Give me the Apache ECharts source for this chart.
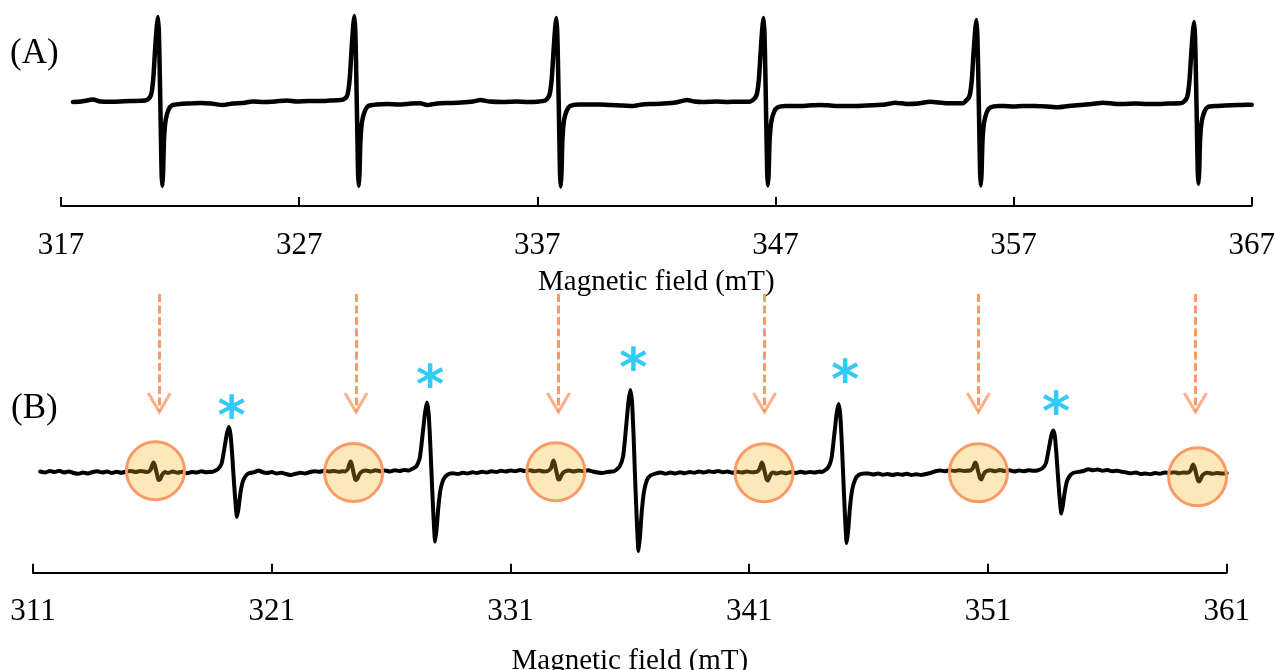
<!DOCTYPE html>
<html>
<head>
<meta charset="utf-8">
<script src="https://cdn.jsdelivr.net/npm/echarts@6/dist/echarts.min.js"></script>
<style>html,body{margin:0;padding:0;background:#fff}#c{width:1275px;height:670px}</style>
</head>
<body>
<div id="c"></div>
<script>
// ---------- DATA ----------
const ticksA = [317, 327, 337, 347, 357, 367];
const ticksB = [311, 321, 331, 341, 351, 361];
const axisTitle = 'Magnetic field (mT)';
const panelLabels = ['(A)', '(B)'];

// Spectrum (A): [field mT, intensity a.u.]
const spectrumA = [
[317.50,0],[317.85,0.5],[318.35,2.5],[318.65,0.5],[319.2,0.3],[319.9,1],[320.4,1.2],
[320.60,2],[320.74,5],[320.81,10],[320.88,25],[320.95,52],[321.02,75],[321.07,85],[321.11,70],[321.14,38],[321.17,0],[321.20,-40],[321.225,-72],[321.255,-84],[321.285,-72],[321.325,-38],[321.395,-18],[321.51,-8],[321.65,-3.5],[322.0,-2],
[322.4,-1.5],[322.84,-1],[323.3,-1.5],[323.8,-3],[324.2,-1.5],[324.6,-1],[325.06,0.5],[325.5,0],[326.0,0.5],[326.49,1.5],[326.9,0.5],[327.4,1],[327.88,1],[328.3,1.5],[328.72,2],
[328.85,2.5],[328.99,5],[329.06,10.5],[329.13,25],[329.20,52],[329.27,76],[329.32,86],[329.36,70],[329.39,39],[329.42,0],[329.45,-40],[329.475,-72],[329.505,-84],[329.535,-72],[329.575,-38],[329.645,-19],[329.76,-9],[329.90,-4],[330.25,-2.5],
[330.7,-2],[331.2,-2.5],[331.7,-1.5],[332.08,-1.3],[332.37,-3],[332.8,-1.5],[333.3,-1],[333.8,-0.5],[334.3,0.5],[334.6,2],[335.0,0.5],[335.56,0],[336.1,0.5],[336.6,0],[337.0,0.3],
[337.33,1.5],[337.47,5],[337.54,10],[337.61,24],[337.68,50],[337.75,74],[337.80,84],[337.84,69],[337.87,38],[337.90,0],[337.93,-40],[337.955,-72],[337.985,-84.5],[338.015,-72],[338.055,-38],[338.125,-18],[338.24,-8.5],[338.38,-4],[338.73,-2.5],
[339.1,-2.5],[339.6,-2.5],[340.1,-3],[340.5,-3.5],[341.0,-4],[341.4,-2.5],[341.86,-2],[342.3,-1.5],[342.8,-0.5],[343.29,2],[343.6,0.5],[343.96,0],[344.5,0.5],[345.0,0],[345.4,0.3],[345.9,0.3],
[346.03,1.5],[346.17,5],[346.24,10],[346.31,24],[346.38,50],[346.45,74],[346.50,84],[346.54,69],[346.57,38],[346.60,0],[346.63,-40],[346.655,-71],[346.685,-83.5],[346.715,-72],[346.755,-39],[346.825,-20],[346.94,-10],[347.08,-5.5],[347.43,-4],
[347.9,-4],[348.4,-3.5],[348.88,-3],[349.3,-3.5],[349.72,-4],[350.43,-4],[351.1,-3.3],[351.6,-2.5],[352.03,-0.7],[352.53,-2],[353.0,-1.5],[353.5,0.3],[354.2,-1.3],[354.6,-1.3],[354.9,-1],
[354.97,0.5],[355.11,4],[355.18,9],[355.25,23],[355.32,49],[355.39,72],[355.44,82],[355.48,67],[355.51,37],[355.54,0],[355.57,-40],[355.595,-71],[355.625,-83.5],[355.655,-72],[355.695,-39],[355.765,-20],[355.88,-10],[356.02,-5.5],[356.37,-4],
[356.6,-4],[357.0,-4.5],[357.4,-4],[357.9,-4],[358.4,-4.5],[358.83,-5.3],[359.3,-4],[359.80,-3],[360.3,-2],[360.76,-0.7],[361.2,-1.8],[361.6,-2],[362.1,-1.5],[362.6,-2],[363.0,-2],[363.5,-1.5],[364.0,-1.3],
[364.11,-0.5],[364.25,3],[364.32,8],[364.39,22],[364.46,48],[364.53,70],[364.58,80],[364.62,66],[364.65,36],[364.68,0],[364.71,-39],[364.735,-70],[364.765,-82],[364.795,-70],[364.835,-37],[364.905,-19],[365.02,-9.5],[365.16,-5],[365.51,-4],
[365.9,-3.5],[366.4,-3],[366.8,-2.7],[367.0,-2.7]
];

// Spectrum (B): [field mT, intensity a.u.]
const spectrumB = [
[311.30,0.5],[311.50,-0.5],[311.70,1],[311.90,0],[312.10,1.2],[312.30,-0.5],[312.50,0.5],[312.70,-1],[312.90,-1.8],[313.10,-0.5],[313.30,-1.5],[313.50,0],[313.70,0.8],[313.90,-0.5],[314.10,0.5],[314.30,-1],[314.50,0.3],[314.70,-0.8],[314.90,0.5],[315.10,1],[315.30,0],[315.50,1],[315.70,0.3],
[315.80,0],[315.93,2.5],[315.98,6],[316.045,9.5],[316.10,7],[316.14,3],[316.17,0],[316.21,-4],[316.25,-7.5],[316.30,-8],[316.35,-6],[316.43,-2],[316.53,0],
[316.65,-1],[316.85,0.5],[317.05,-0.8],[317.25,0.3],[317.45,-1.2],[317.65,0],[317.85,-0.5],[318.05,0.8],[318.25,-0.3],[318.45,0.3],
[318.49,0],[318.75,3],[318.90,8.5],[319.04,27],[319.12,38],[319.20,45],[319.27,38],[319.335,20],[319.39,0],[319.46,-24],[319.545,-45],[319.61,-36],[319.68,-22.5],[319.77,-11],[319.89,-4.5],[320.04,-1.3],[320.29,0],
[320.45,1.5],[320.60,0],[320.80,-1],[321.00,0],[321.20,-1.5],[321.40,-0.8],[321.60,-2],[321.80,-3],[322.00,-1.8],[322.20,-0.8],[322.40,-1.5],[322.60,0],[322.80,0.8],[323.00,0.3],[323.20,1.3],[323.40,0.5],[323.60,1],[323.80,0.2],[324.00,0.8],
[324.06,0.5],[324.19,3],[324.24,7],[324.30,10.5],[324.35,8],[324.39,3.5],[324.42,0],[324.46,-4],[324.50,-7.5],[324.55,-8],[324.60,-6],[324.68,-2],[324.78,0.5],
[324.95,1.5],[325.15,0.5],[325.35,1.8],[325.55,0.8],[325.75,1.5],[325.95,0.5],[326.15,1.8],[326.35,1],[326.55,2],[326.75,1.5],
[326.79,2],[327.05,5.5],[327.20,14],[327.34,42],[327.42,59],[327.50,69.5],[327.57,59],[327.635,31],[327.69,0],[327.76,-37.5],[327.845,-69.5],[327.91,-55.5],[327.98,-35],[328.07,-17.5],[328.19,-7.5],[328.34,-3],[328.59,-1.3],
[328.80,-2],[329.00,-0.8],[329.20,-1.5],[329.40,-0.3],[329.60,-1],[329.80,0.3],[330.00,-0.5],[330.20,0.8],[330.40,0],[330.60,1.2],[330.80,0.5],[331.00,1.5],[331.20,0.8],[331.40,2],[331.60,1],[331.80,1.8],[332.00,0.8],[332.20,1.5],[332.40,0.5],
[332.56,1],[332.69,3.5],[332.74,7.5],[332.80,11.5],[332.85,8.5],[332.89,4],[332.92,0.5],[332.96,-3.5],[333.00,-7],[333.05,-7.5],[333.10,-5],[333.18,-1.5],[333.28,0.5],
[333.45,1.5],[333.65,0.5],[333.85,1.5],[334.05,0.8],[334.25,1.8],[334.45,0.5],[334.65,-0.5],[334.85,-1],[335.05,0],[335.25,0.5],
[335.31,0.5],[335.57,5.5],[335.72,16],[335.86,49.5],[335.94,70],[336.02,82],[336.09,70],[336.155,37],[336.21,0],[336.28,-42.5],[336.365,-79],[336.43,-63],[336.50,-39.5],[336.59,-20],[336.71,-8.5],[336.86,-3.5],[337.11,-1.3],
[337.30,-0.5],[337.50,-1.8],[337.70,-0.5],[337.90,-1.5],[338.10,-0.3],[338.30,-1.2],[338.50,0],[338.70,-0.8],[338.90,0.5],[339.10,-0.5],[339.30,0.8],[339.50,0],[339.70,1],[339.90,-0.3],[340.10,0.5],[340.30,-0.8],[340.50,0.3],[340.70,-0.5],[340.90,0.5],[341.10,-0.3],[341.25,0],
[341.29,0],[341.42,2.5],[341.47,6],[341.53,9.5],[341.58,7],[341.62,3],[341.65,0],[341.69,-4],[341.73,-7.5],[341.78,-8.5],[341.83,-6],[341.91,-2],[342.00,-0.5],
[342.15,-1.5],[342.35,-0.3],[342.55,-1.2],[342.75,0],[342.95,-1],[343.15,0.3],[343.35,-0.8],[343.55,0],[343.75,-0.5],[343.95,0.5],
[344.03,0],[344.29,4],[344.44,13],[344.58,41],[344.66,58],[344.74,68],[344.81,58],[344.875,30.5],[344.93,0],[345.00,-38.5],[345.085,-71],[345.15,-57],[345.22,-35.5],[345.31,-18],[345.43,-8],[345.58,-3],[345.83,-1.5],
[346.00,-1.5],[346.20,-2.5],[346.40,-1.5],[346.60,-2.8],[346.80,-2],[347.00,-3],[347.20,-2],[347.40,-2.8],[347.60,-1.8],[347.80,-3],[348.00,-2.2],[348.20,-3],[348.40,-2],[348.60,-1],[348.80,0.8],[349.00,1.5],[349.20,0.8],[349.40,1.8],[349.60,1],[349.80,1.8],[350.00,1],[350.20,1.5],
[350.23,1.3],[350.36,3.5],[350.41,6.5],[350.465,9.5],[350.52,7.5],[350.56,3.5],[350.59,0.5],[350.63,-3],[350.67,-6.5],[350.72,-7.5],[350.77,-5],[350.85,-1],[350.95,1],
[351.10,1.8],[351.30,0.8],[351.50,2],[351.70,1],[351.90,1.8],[352.10,0.5],[352.30,1.5],[352.50,0.8],[352.70,1.8],[352.90,1.2],
[353.02,1.3],[353.28,3.8],[353.43,9],[353.57,26],[353.65,36],[353.73,41.5],[353.80,36],[353.865,19],[353.92,0],[353.99,-22.5],[354.075,-41.5],[354.14,-33],[354.21,-21],[354.30,-10],[354.42,-4],[354.57,-1],[354.82,0.3],
[355.00,1],[355.20,2.7],[355.40,1.8],[355.60,2.5],[355.80,1.2],[356.00,2],[356.20,0.8],[356.40,1.2],[356.60,0.3],[356.80,-0.5],[357.00,-1.2],[357.20,-0.5],[357.40,-2],[357.60,-1.5],[357.80,-2.3],[358.00,-1],[358.20,-1.8],[358.40,-0.5],[358.60,-1],[358.80,-0.3],[359.00,-1.2],[359.20,-0.5],
[359.36,-0.8],[359.49,1.5],[359.54,5],[359.595,7.5],[359.65,5],[359.69,1.5],[359.72,-1.5],[359.76,-5.5],[359.80,-8.5],[359.85,-9.5],[359.90,-7.5],[359.98,-3.5],[360.08,-1.5],
[360.20,-0.8],[360.40,-1.8],[360.60,-1],[360.80,-1.5],[361.00,-1.3]
];

// Weak (circled) lines in (B): field and intensity of circle centre
const weakLineFieldsB = [316.13, 324.43, 332.90, 341.62, 350.60, 359.78];
const weakLineLevelsB = [1.2, -0.5, 0.3, -0.7, -0.7, -4.7];
// Arrows pointing to the weak lines (field positions)
const arrowFieldsB = [316.29, 324.53, 333.01, 341.64, 350.60, 359.69];
// Asterisk marks above the strong lines
const asteriskFieldsB = [319.32, 327.63, 336.15, 345.02, 353.86];
const asteriskLevelsB = [66, 97, 114, 102, 70];

// ---------- CHART ----------
const serif = 'Liberation Serif';
const orange = '#F99B68';
const ARROW_TOP = 178, ARROW_TIP = 60;

function xAxisCfg(ticks, idx, nameGap) {
  return {
    type: 'value', gridIndex: idx, min: ticks[0], max: ticks[ticks.length - 1],
    name: axisTitle, nameLocation: 'middle', nameGap: nameGap,
    nameTextStyle: { fontFamily: serif, fontSize: 29, color: '#000' },
    axisLine: { show: true, onZero: false, lineStyle: { color: '#000', width: 2 } },
    axisTick: { show: true, inside: true, length: 9, customValues: ticks, lineStyle: { color: '#000', width: 2 } },
    axisLabel: { customValues: ticks, fontFamily: serif, fontSize: 31, color: '#000', margin: 24 },
    splitLine: { show: false }
  };
}

const chart = echarts.init(document.getElementById('c'), null, { renderer: 'canvas' });
chart.setOption({
  animation: false,
  backgroundColor: '#fff',
  title: [
    { text: panelLabels[0], left: 10, top: 36, padding: 0, textStyle: { fontFamily: serif, fontSize: 35, fontWeight: 'normal', color: '#000' } },
    { text: panelLabels[1], left: 11, top: 391, padding: 0, textStyle: { fontFamily: serif, fontSize: 35, fontWeight: 'normal', color: '#000' } }
  ],
  grid: [
    { left: 61, right: 23.3, top: 5, bottom: 464, containLabel: false, outerBoundsMode: 'none' },
    { left: 33, right: 48.3, top: 285, bottom: 97.3, containLabel: false, outerBoundsMode: 'none' }
  ],
  xAxis: [xAxisCfg(ticksA, 0, 62), xAxisCfg(ticksB, 1, 74)],
  yAxis: [
    { type: 'value', gridIndex: 0, min: -104, max: 97, show: false },
    { type: 'value', gridIndex: 1, min: -100.7, max: 187, show: false }
  ],
  series: [
    { type: 'line', xAxisIndex: 0, yAxisIndex: 0, data: spectrumA, showSymbol: false, smooth: 0.2, silent: true,
      lineStyle: { color: '#000', width: 4.5, join: 'round', cap: 'round' }, z: 2 },
    { type: 'line', xAxisIndex: 1, yAxisIndex: 1, data: spectrumB, showSymbol: false, smooth: 0.2, silent: true,
      lineStyle: { color: '#000', width: 4, join: 'round', cap: 'round' }, z: 2 },
    { type: 'scatter', xAxisIndex: 1, yAxisIndex: 1, silent: true, z: 3,
      data: weakLineFieldsB.map((f, i) => [f, weakLineLevelsB[i]]),
      symbol: 'circle', symbolSize: 58,
      itemStyle: { color: 'rgba(245,180,20,0.3)', borderColor: orange, borderWidth: 3, opacity: 1 } },
    { type: 'lines', coordinateSystem: 'cartesian2d', xAxisIndex: 1, yAxisIndex: 1, silent: true, z: 4,
      data: arrowFieldsB.map(f => ({ coords: [[f, ARROW_TOP], [f, ARROW_TIP]] })),
      lineStyle: { color: orange, width: 3, type: [8, 3.5], opacity: 1 } },
    { type: 'scatter', xAxisIndex: 1, yAxisIndex: 1, silent: true, z: 4,
      data: arrowFieldsB.map(f => [f, ARROW_TIP]),
      symbol: 'path://M0,0L10,18L20,0', symbolSize: [22, 19], symbolKeepAspect: false, symbolOffset: [0, '-50%'],
      itemStyle: { color: 'rgba(0,0,0,0)', borderColor: orange, borderWidth: 3 } },
    { type: 'scatter', xAxisIndex: 1, yAxisIndex: 1, silent: true, z: 5,
      data: asteriskFieldsB.map((f, i) => [f, asteriskLevelsB[i]]),
      symbol: 'circle', symbolSize: 1, itemStyle: { color: 'rgba(0,0,0,0)' },
      label: { show: true, position: 'inside', formatter: '*', fontFamily: 'DejaVu Sans', fontWeight: 'bold', fontSize: 54, color: '#00BEF2', offset: [0, 14] } }
  ]
});
</script>
</body>
</html>
